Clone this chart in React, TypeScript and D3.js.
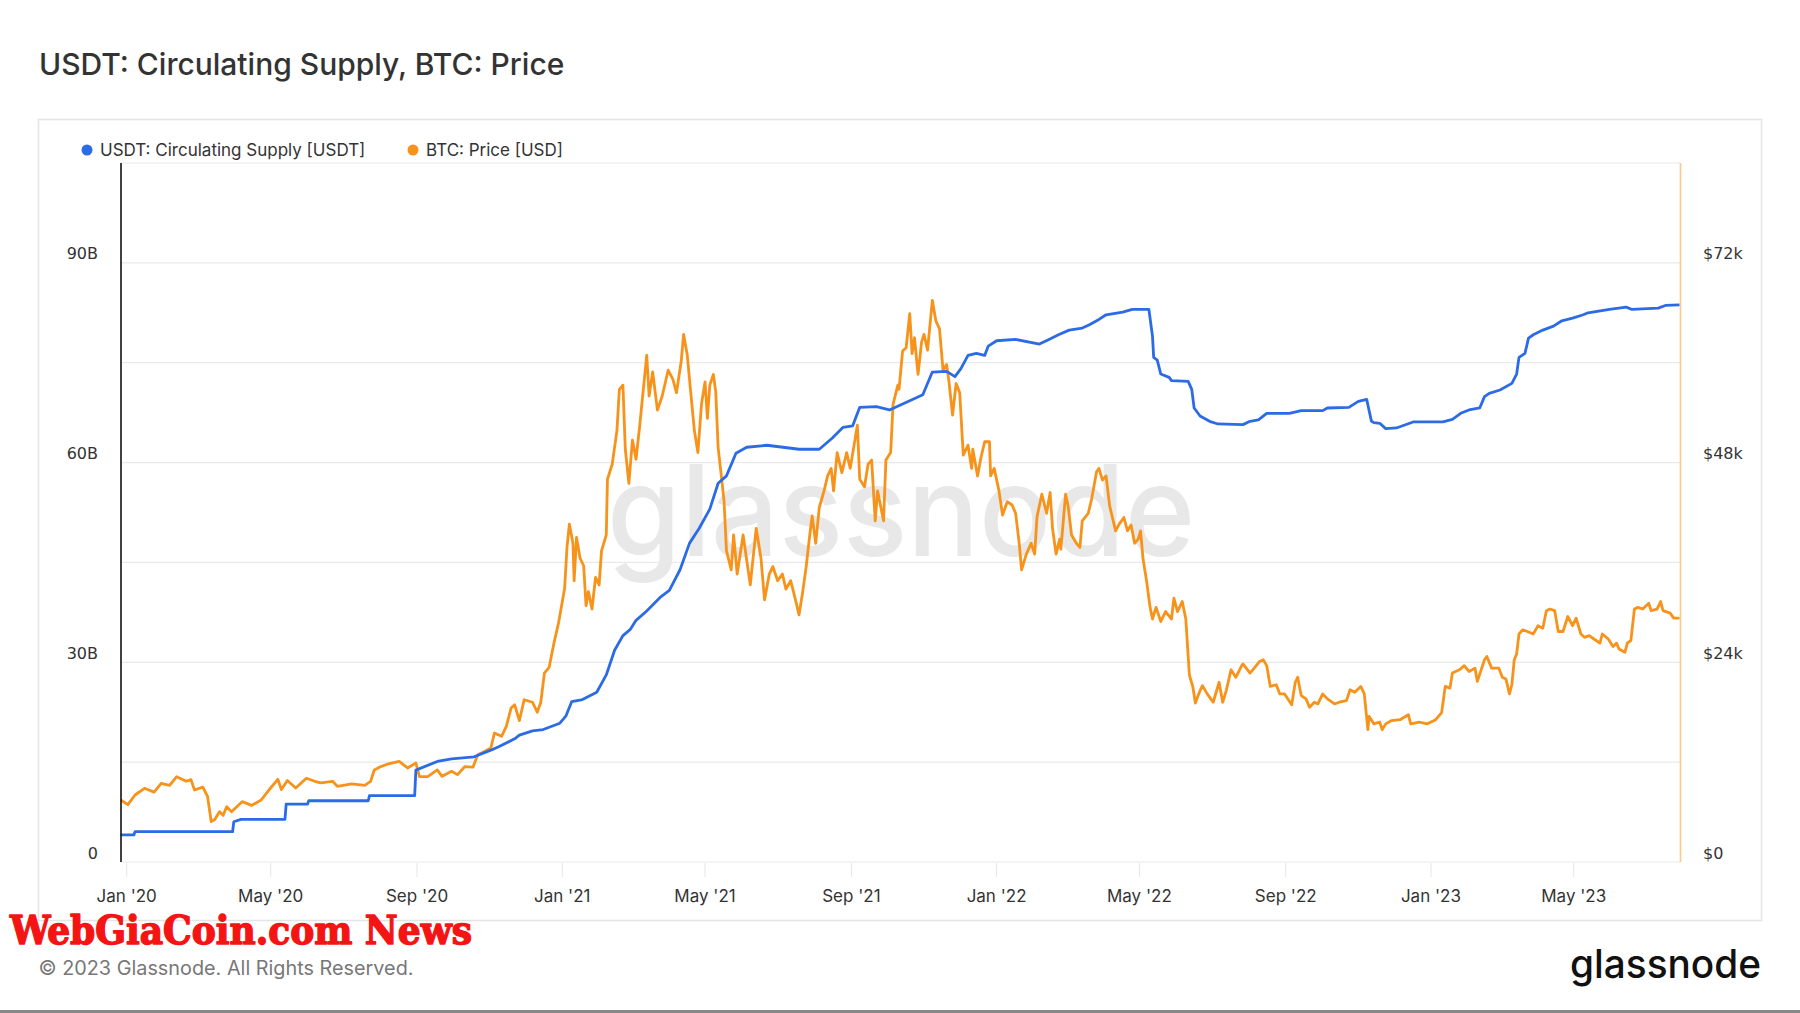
import React from "react";
import * as d3 from "d3";

// ---------- data ----------
// USDT circulating supply, billions
const usdtSupply: [string, number][] = [
  ["2019-12-27",4.06],["2020-01-07",4.06],["2020-01-08",4.55],["2020-03-30",4.55],["2020-03-31",6.05],["2020-04-06",6.4],
  ["2020-05-13",6.4],["2020-05-14",8.7],["2020-06-01",8.7],["2020-06-02",9.2],["2020-07-22",9.2],["2020-07-23",9.96],
  ["2020-08-30",9.96],["2020-08-31",13.8],["2020-09-18",15.1],["2020-09-30",15.5],["2020-10-19",15.8],["2020-11-02",16.8],
  ["2020-11-09",17.35],["2020-11-22",18.5],["2020-11-26",19.05],["2020-12-07",19.7],["2020-12-16",19.9],["2020-12-30",20.85],
  ["2021-01-04",21.9],["2021-01-09",24.1],["2021-01-18",24.4],["2021-01-30",25.5],["2021-02-07",28.1],["2021-02-14",31.8],
  ["2021-02-21",34.0],["2021-02-27",34.9],["2021-03-04",36.3],["2021-03-13",37.7],["2021-03-24",39.7],["2021-04-01",40.8],
  ["2021-04-10",43.9],["2021-04-18",47.9],["2021-04-26",50.1],["2021-05-05",53.0],["2021-05-12",56.9],["2021-05-19",58.0],
  ["2021-05-27",61.4],["2021-06-05",62.3],["2021-06-22",62.6],["2021-07-19",62.0],["2021-08-05",62.0],["2021-08-16",63.7],
  ["2021-08-25",65.3],["2021-09-02",65.5],["2021-09-08",68.3],["2021-09-22",68.4],["2021-10-03",67.9],["2021-10-20",69.3],
  ["2021-10-31",70.2],["2021-11-08",73.6],["2021-11-20",73.7],["2021-11-27",72.9],["2021-12-02",74.1],["2021-12-08",76.1],
  ["2021-12-15",76.4],["2021-12-22",76.1],["2021-12-25",77.5],["2022-01-01",78.3],["2022-01-17",78.5],["2022-02-06",77.8],
  ["2022-02-14",78.5],["2022-02-22",79.2],["2022-03-03",79.9],["2022-03-14",80.2],["2022-03-20",80.7],["2022-03-28",81.5],
  ["2022-04-03",82.2],["2022-04-17",82.6],["2022-04-25",83.0],["2022-05-09",83.0],["2022-05-12",79.0],["2022-05-13",75.8],
  ["2022-05-16",75.4],["2022-05-19",73.3],["2022-05-26",72.8],["2022-05-28",72.3],["2022-06-11",72.2],["2022-06-14",71.0],
  ["2022-06-16",68.2],["2022-06-21",67.0],["2022-06-29",66.2],["2022-07-06",65.8],["2022-07-27",65.7],["2022-08-02",66.2],
  ["2022-08-09",66.4],["2022-08-16",67.4],["2022-09-04",67.4],["2022-09-14",67.8],["2022-10-02",67.8],["2022-10-06",68.2],
  ["2022-10-24",68.3],["2022-11-01",69.2],["2022-11-08",69.5],["2022-11-12",66.2],["2022-11-14",66.0],["2022-11-19",65.9],
  ["2022-11-24",65.1],["2022-12-03",65.2],["2022-12-17",66.1],["2023-01-11",66.1],["2023-01-19",66.5],["2023-01-26",67.4],
  ["2023-02-02",67.9],["2023-02-11",68.2],["2023-02-15",69.9],["2023-02-19",70.4],["2023-02-28",70.9],["2023-03-10",71.9],
  ["2023-03-14",73.3],["2023-03-16",75.8],["2023-03-21",76.4],["2023-03-24",78.7],["2023-03-28",79.2],["2023-04-05",79.9],
  ["2023-04-14",80.5],["2023-04-21",81.3],["2023-04-30",81.7],["2023-05-09",82.2],["2023-05-13",82.5],["2023-05-31",83.0],
  ["2023-06-14",83.35],["2023-06-19",83.0],["2023-07-11",83.2],["2023-07-17",83.6],["2023-07-29",83.7],
];

// BTC price, thousands of USD
const btcPrice: [string, number][] = [
  ["2019-12-27",7.45],["2020-01-02",6.9],["2020-01-08",8.05],["2020-01-16",8.86],["2020-01-24",8.4],["2020-01-30",9.46],
  ["2020-02-06",9.2],["2020-02-12",10.25],["2020-02-20",9.7],["2020-02-24",9.9],["2020-02-27",8.65],["2020-03-05",9.0],
  ["2020-03-09",7.85],["2020-03-12",4.85],["2020-03-15",5.1],["2020-03-19",6.05],["2020-03-22",5.6],["2020-03-25",6.65],
  ["2020-03-29",6.05],["2020-04-07",7.25],["2020-04-15",6.8],["2020-04-23",7.45],["2020-04-30",8.74],["2020-05-07",9.94],
  ["2020-05-10",8.7],["2020-05-15",9.8],["2020-05-22",8.9],["2020-05-31",10.06],["2020-06-07",9.7],["2020-06-12",9.5],
  ["2020-06-22",9.7],["2020-06-26",9.1],["2020-07-08",9.4],["2020-07-19",9.2],["2020-07-24",9.7],["2020-07-27",11.06],
  ["2020-08-02",11.5],["2020-08-07",11.75],["2020-08-17",12.1],["2020-08-24",11.3],["2020-08-31",11.9],["2020-09-03",10.25],
  ["2020-09-10",10.25],["2020-09-18",11.06],["2020-09-22",10.3],["2020-09-30",10.9],["2020-10-05",10.5],["2020-10-11",11.45],
  ["2020-10-18",11.4],["2020-10-22",12.9],["2020-10-28",13.3],["2020-11-02",13.7],["2020-11-05",15.5],["2020-11-11",15.1],
  ["2020-11-15",16.3],["2020-11-19",18.5],["2020-11-22",18.9],["2020-11-26",17.0],["2020-11-30",19.5],["2020-12-07",19.2],
  ["2020-12-11",18.0],["2020-12-14",19.2],["2020-12-17",22.7],["2020-12-21",23.4],["2020-12-25",26.3],["2020-12-29",28.8],
  ["2021-01-03",32.9],["2021-01-05",37.8],["2021-01-07",40.6],["2021-01-10",38.3],["2021-01-11",33.8],["2021-01-13",39.0],
  ["2021-01-16",36.5],["2021-01-19",35.6],["2021-01-21",30.8],["2021-01-23",32.5],["2021-01-26",30.4],["2021-01-29",34.2],
  ["2021-02-01",33.3],["2021-02-03",37.4],["2021-02-07",39.3],["2021-02-08",46.0],["2021-02-12",47.8],["2021-02-16",51.9],
  ["2021-02-18",56.8],["2021-02-21",57.3],["2021-02-23",49.6],["2021-02-26",45.5],["2021-03-01",50.7],["2021-03-04",48.4],
  ["2021-03-07",52.3],["2021-03-13",60.9],["2021-03-15",56.0],["2021-03-18",58.9],["2021-03-22",54.3],["2021-03-26",56.0],
  ["2021-03-31",59.1],["2021-04-04",58.0],["2021-04-07",56.4],["2021-04-11",60.2],["2021-04-13",63.4],["2021-04-16",61.0],
  ["2021-04-19",56.4],["2021-04-22",51.9],["2021-04-25",49.2],["2021-04-28",55.0],["2021-05-01",57.7],["2021-05-03",53.3],
  ["2021-05-05",57.3],["2021-05-08",58.6],["2021-05-10",56.5],["2021-05-12",49.8],["2021-05-15",46.0],["2021-05-17",43.3],
  ["2021-05-19",37.4],["2021-05-23",35.1],["2021-05-25",39.3],["2021-05-28",34.6],["2021-06-02",39.3],["2021-06-08",33.3],
  ["2021-06-13",40.1],["2021-06-17",36.5],["2021-06-20",31.5],["2021-06-24",34.6],["2021-06-27",35.5],["2021-07-01",33.8],
  ["2021-07-05",34.6],["2021-07-08",32.8],["2021-07-12",33.8],["2021-07-16",31.5],["2021-07-19",29.7],["2021-07-22",32.4],
  ["2021-07-25",35.5],["2021-07-28",39.3],["2021-07-30",41.6],["2021-08-02",38.3],["2021-08-05",42.6],["2021-08-09",44.6],
  ["2021-08-12",46.4],["2021-08-15",47.3],["2021-08-17",44.6],["2021-08-20",49.2],["2021-08-24",46.8],["2021-08-28",49.2],
  ["2021-08-31",47.3],["2021-09-06",52.5],["2021-09-08",46.0],["2021-09-12",45.1],["2021-09-15",47.8],["2021-09-18",48.3],
  ["2021-09-21",41.0],["2021-09-23",44.6],["2021-09-28",41.0],["2021-09-30",48.3],["2021-10-04",49.2],["2021-10-06",55.0],
  ["2021-10-10",57.3],["2021-10-11",56.8],["2021-10-14",61.4],["2021-10-17",61.8],["2021-10-20",65.9],["2021-10-22",61.1],
  ["2021-10-24",63.0],["2021-10-27",58.6],["2021-10-30",62.5],["2021-11-01",63.4],["2021-11-04",61.5],["2021-11-08",67.5],
  ["2021-11-11",65.0],["2021-11-14",64.1],["2021-11-17",59.1],["2021-11-20",59.8],["2021-11-22",57.7],["2021-11-25",53.7],
  ["2021-11-28",57.5],["2021-12-01",56.4],["2021-12-04",48.9],["2021-12-08",50.1],["2021-12-11",47.3],["2021-12-12",49.6],
  ["2021-12-16",46.4],["2021-12-19",48.7],["2021-12-22",50.5],["2021-12-26",50.5],["2021-12-27",46.4],["2021-12-30",47.3],
  ["2022-01-03",44.6],["2022-01-06",41.7],["2022-01-10",43.3],["2022-01-14",42.9],["2022-01-17",41.9],["2022-01-20",38.3],
  ["2022-01-22",35.1],["2022-01-26",37.0],["2022-01-30",38.3],["2022-02-02",37.0],["2022-02-04",41.5],["2022-02-08",44.2],
  ["2022-02-12",41.9],["2022-02-15",44.4],["2022-02-17",40.1],["2022-02-20",37.0],["2022-02-23",38.8],["2022-02-24",37.6],
  ["2022-02-28",44.2],["2022-03-02",42.9],["2022-03-05",39.3],["2022-03-09",38.3],["2022-03-12",37.8],["2022-03-14",41.0],
  ["2022-03-19",41.9],["2022-03-22",43.7],["2022-03-26",46.9],["2022-03-28",47.3],["2022-03-31",45.9],["2022-04-03",46.4],
  ["2022-04-06",42.8],["2022-04-09",41.0],["2022-04-11",39.8],["2022-04-14",40.6],["2022-04-18",41.4],["2022-04-21",39.8],
  ["2022-04-24",40.5],["2022-04-27",38.3],["2022-04-30",38.8],["2022-05-02",39.8],["2022-05-04",36.5],["2022-05-07",33.8],
  ["2022-05-10",30.6],["2022-05-12",29.2],["2022-05-15",30.6],["2022-05-19",28.9],["2022-05-23",30.1],["2022-05-28",29.2],
  ["2022-05-30",31.7],["2022-06-02",30.1],["2022-06-06",31.3],["2022-06-09",29.2],["2022-06-12",22.5],["2022-06-15",21.0],
  ["2022-06-17",19.1],["2022-06-21",20.6],["2022-06-23",21.2],["2022-06-27",20.2],["2022-07-02",19.2],["2022-07-07",21.6],
  ["2022-07-10",19.2],["2022-07-13",20.6],["2022-07-17",23.1],["2022-07-21",22.2],["2022-07-26",23.6],["2022-07-27",23.8],
  ["2022-08-02",22.7],["2022-08-06",23.4],["2022-08-10",24.1],["2022-08-13",24.3],["2022-08-16",23.6],["2022-08-19",21.1],
  ["2022-08-24",21.3],["2022-08-27",20.2],["2022-08-31",20.2],["2022-09-06",18.9],["2022-09-09",21.6],["2022-09-11",22.2],
  ["2022-09-14",20.0],["2022-09-18",19.6],["2022-09-21",18.6],["2022-09-25",19.2],["2022-09-28",19.0],["2022-10-02",20.2],
  ["2022-10-06",19.6],["2022-10-12",19.0],["2022-10-16",19.2],["2022-10-22",19.4],["2022-10-25",20.7],["2022-10-29",20.4],
  ["2022-11-03",21.1],["2022-11-06",20.2],["2022-11-09",15.9],["2022-11-10",17.5],["2022-11-14",16.6],["2022-11-19",16.8],
  ["2022-11-21",15.9],["2022-11-24",16.6],["2022-11-29",17.0],["2022-12-06",17.1],["2022-12-13",17.7],["2022-12-15",16.6],
  ["2022-12-22",16.8],["2022-12-29",16.6],["2023-01-05",17.1],["2023-01-10",17.95],["2023-01-13",21.1],["2023-01-17",20.9],
  ["2023-01-19",22.7],["2023-01-25",23.1],["2023-01-29",23.6],["2023-02-02",22.9],["2023-02-07",23.3],["2023-02-09",21.7],
  ["2023-02-15",24.3],["2023-02-17",24.7],["2023-02-21",23.3],["2023-02-27",23.3],["2023-03-02",22.2],["2023-03-05",22.0],
  ["2023-03-08",20.2],["2023-03-10",21.3],["2023-03-12",24.3],["2023-03-14",25.0],["2023-03-16",27.4],["2023-03-19",27.9],
  ["2023-03-23",27.7],["2023-03-28",27.4],["2023-04-01",28.4],["2023-04-05",28.1],["2023-04-08",30.2],["2023-04-11",30.4],
  ["2023-04-15",30.2],["2023-04-18",27.7],["2023-04-22",27.7],["2023-04-26",29.5],["2023-04-30",28.4],["2023-05-03",29.3],
  ["2023-05-07",27.4],["2023-05-10",27.0],["2023-05-14",27.2],["2023-05-18",26.8],["2023-05-23",26.3],["2023-05-25",27.4],
  ["2023-05-30",26.8],["2023-06-03",25.9],["2023-06-06",26.3],["2023-06-08",25.6],["2023-06-13",25.2],["2023-06-15",26.3],
  ["2023-06-18",26.6],["2023-06-21",30.4],["2023-06-24",30.6],["2023-06-28",30.4],["2023-07-03",31.1],["2023-07-05",30.2],
  ["2023-07-10",30.4],["2023-07-13",31.3],["2023-07-15",30.2],["2023-07-21",29.9],["2023-07-24",29.3],["2023-07-29",29.3],
];

const leftTicks = [0, 30, 60, 90]; // billions
const gridTicks = [0, 15, 30, 45, 60, 75, 90, 105]; // billions
const rightTicks = [0, 24, 48, 72]; // thousand USD
const legendItems = ["USDT: Circulating Supply [USDT]", "BTC: Price [USD]"];

const BLUE = "#2b6be6";
const ORANGE = "#f7931a";

export default function App() {
  const W = 1800, H = 1013;
  const left = 121, right = 1680, top = 163, bottom = 862;

  const x = d3.scaleUtc()
    .domain([new Date(Date.UTC(2019, 11, 27, 5)), new Date(Date.UTC(2023, 6, 29, 7))])
    .range([left, right]);
  const yL = d3.scaleLinear().domain([0, 105]).range([bottom, top]);
  const yR = d3.scaleLinear().domain([0, 84]).range([bottom, top]);

  const lineL = d3.line<[string, number]>()
    .x(d => x(new Date(d[0] + "T00:00:00Z")))
    .y(d => yL(d[1]));
  const lineR = d3.line<[string, number]>()
    .x(d => x(new Date(d[0] + "T00:00:00Z")))
    .y(d => yR(d[1]));

  const xTicks = x.ticks(d3.utcMonth.every(4)!).filter(d => d >= new Date(Date.UTC(2020, 0, 1)));
  const fmt = d3.utcFormat("%b '%y");

  const sans = "Inter, 'Noto Sans', sans-serif";
  const axisFont = "'DejaVu Sans', Verdana, sans-serif";

  return (
    <svg width={W} height={H} style={{ position: "absolute", left: 0, top: 0, background: "#fff" }}
      xmlns="http://www.w3.org/2000/svg">
      <rect x={0} y={0} width={W} height={H} fill="#fff" />
      <text x={39} y={75} fontFamily={sans} fontSize={30} fontWeight={500} fill="#333">
        USDT: Circulating Supply, BTC: Price
      </text>

      <rect x={38.5} y={119.5} width={1723} height={801} fill="none" stroke="#e4e4e4" strokeWidth={1.5} />

      {/* legend */}
      <circle cx={87} cy={150} r={5.5} fill={BLUE} />
      <text x={100} y={150} dy="0.35em" fontFamily={sans} fontSize={17} fill="#333">{legendItems[0]}</text>
      <circle cx={413} cy={150} r={5.5} fill={ORANGE} />
      <text x={426} y={150} dy="0.35em" fontFamily={sans} fontSize={17} fill="#333">{legendItems[1]}</text>

      {/* watermark */}
      <text x={607} y={556} fontFamily={sans} fontSize={126} fontWeight={500} fill="#e8e8e8"
        textLength={588} lengthAdjust="spacingAndGlyphs">glassnode</text>

      {/* grid */}
      {gridTicks.map(t => (
        <line key={"g" + t} x1={left} x2={right} y1={yL(t)} y2={yL(t)} stroke="#e9e9e9" strokeWidth={1.2} />
      ))}

      {/* x ticks */}
      {xTicks.map((d, i) => (
        <g key={"x" + i}>
          <line x1={x(d)} x2={x(d)} y1={bottom + 1} y2={bottom + 15} stroke="#e6e6e6" strokeWidth={1} />
          <text x={x(d)} y={896} dy="0.35em" textAnchor="middle" fontFamily={sans} fontSize={17} fill="#333">
            {fmt(d)}
          </text>
        </g>
      ))}

      {/* y labels */}
      {leftTicks.map(t => (
        <text key={"l" + t} x={98} y={yL(t) - 9} dy="0.35em" textAnchor="end" fontFamily={axisFont}
          fontSize={16} fill="#333">{t === 0 ? "0" : `${t}B`}</text>
      ))}
      {rightTicks.map(t => (
        <text key={"r" + t} x={1703} y={yR(t) - 9} dy="0.35em" textAnchor="start" fontFamily={axisFont}
          fontSize={16} fill="#333">{t === 0 ? "$0" : `$${t}k`}</text>
      ))}

      {/* series */}
      <path d={lineR(btcPrice) || ""} fill="none" stroke={ORANGE} strokeWidth={2.8} strokeLinejoin="round" />
      <path d={lineL(usdtSupply) || ""} fill="none" stroke={BLUE} strokeWidth={2.8} strokeLinejoin="round" />

      {/* axes */}
      <line x1={left} x2={left} y1={top} y2={bottom} stroke="#111" strokeWidth={1.6} />
      <line x1={right + 0.5} x2={right + 0.5} y1={top} y2={bottom} stroke="#fbc88e" strokeWidth={1.6} />

      {/* footer */}
      <text x={10} y={944} fontFamily="'DejaVu Serif', serif" fontStretch="condensed" fontWeight={700}
        fontSize={40} fill="#f41414" stroke="#f41414" strokeWidth={1.4} strokeLinejoin="round"
        textLength={462} lengthAdjust="spacingAndGlyphs">WebGiaCoin.com News</text>
      <text x={38.5} y={975} fontFamily={sans} fontSize={19.5} fill="#777"
        textLength={375} lengthAdjust="spacingAndGlyphs">© 2023 Glassnode. All Rights Reserved.</text>
      <text x={1570} y={978} fontFamily={sans} fontSize={39} fontWeight={500} fill="#111"
        textLength={191} lengthAdjust="spacingAndGlyphs">glassnode</text>
      <rect x={0} y={1010} width={W} height={3} fill="#888" />
    </svg>
  );
}
